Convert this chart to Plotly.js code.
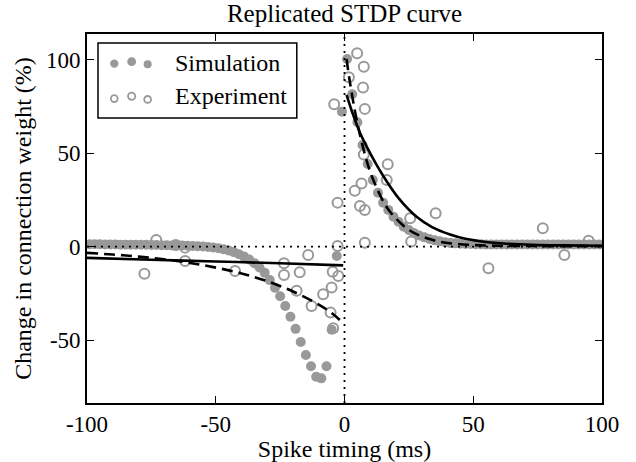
<!DOCTYPE html>
<html>
<head>
<meta charset="utf-8">
<script src="https://cdn.plot.ly/plotly-3.0.1.min.js"></script>
<style>html,body{margin:0;padding:0;background:#fff;}#chart{width:636px;height:462px;}</style>
</head>
<body>
<div id="chart"></div>
<script>
// ---- data ----
const simT = [-99,-97,-95,-93,-91,-89,-87,-85,-83,-81,-79,-77,-75,-73,-71,-69,-67,-65,-63,-61,
  -59,-57,-55,-53,-51,-49,-47,-45,-43,-41,-39,-37,-35,-33,-31,-29,-27,-25,-23,-21,
  -19,-17,-15,-13,-11,-9,-7,-5,-3,-1,
  1,3,5,7,9,11,13,15,17,19,21,23,25,27,29,31,33,35,37,39,
  41,43,45,47,49,51,53,55,57,59,61,63,65,67,69,71,73,75,77,79,
  81,83,85,87,89,91,93,95,97,99];
const simV = [1.3,1.3,1.3,1.2,1.2,1.2,1.1,1.1,1.1,1.0,1.0,1.0,0.9,0.9,0.8,0.8,0.7,0.7,0.6,0.5,
  0.4,0.3,0.1,-0.1,-0.4,-0.8,-1.3,-2.0,-2.9,-4.0,-5.3,-6.9,-8.8,-11.1,-14.0,-17.9,-22.0,-26.5,-31.8,-37.5,
  -44.0,-51.0,-58.0,-64.0,-69.6,-70.5,-64.0,-44.5,-5.0,72.3,
  100.5,81.6,66.6,54.5,44.3,35.7,28.9,23.6,19.7,16.1,13.4,10.7,8.9,7.3,6.0,5.0,4.1,3.4,2.9,2.4,
  2.0,1.8,1.6,1.5,1.4,1.3,1.3,1.2,1.2,1.2,1.2,1.2,1.2,1.2,1.2,1.2,1.2,1.2,1.2,1.2,
  1.2,1.2,1.2,1.2,1.2,1.2,1.2,1.2,1.2,1.2];

const expT = [-77.7,-73.1,-65.5,-61.9,-61.9,-42.5,-23.5,-23.5,-18.6,-17.4,-14.1,-12.8,-8.3,-5.4,-5.0,-4.6,-4.4,-4.0,-2.7,-2.7,-2.4,
  1.7,4.0,4.9,6.0,6.6,7.2,7.5,7.5,7.9,7.9,7.9,16.4,16.8,25.5,25.9,35.4,55.9,77.0,85.4,94.8];
const expV = [-14.5,3.6,0.9,-0.5,-7.7,-13.0,-8.9,-15.2,-23.6,-13.7,-4.4,-31.8,-25.5,-35.3,-21.9,-13.4,-43.7,76.3,0.4,23.6,-15.7,
  90.7,30.0,103.6,21.8,33.9,85.2,96.4,49.4,73.8,19.7,2.1,35.7,44.1,15.2,2.8,17.9,-11.6,9.9,-4.4,3.2];

// fit to experiment (solid) : negative and positive branches
const expFitNegT = [-100,-75,-50,-25,-0.5];
const expFitNegV = [-6.0,-7.0,-7.9,-8.9,-10.0];
const expFitPosT = [0.8,3,6,10,15,21,28,34,41,47,55,63,73,85,100];
const expFitPosV = [81.3,72,61,50,38,26,16,10.5,6.5,4.2,2.5,1.6,1.0,0.7,0.5];

// fit to simulation (dashed)
const simFitNegT = [-100,-90,-80,-70,-60,-50,-40,-30,-20,-10,-5,-0.8];
const simFitNegV = [-3.3,-4.2,-5.3,-6.8,-8.7,-11.2,-14.3,-18.5,-24.0,-31.0,-35.5,-40.5];
const simFitPosT = [0.8,2,4,6,8,10,13,16,20,25,30,35,40,50,60,70,80,90,100];
const simFitPosV = [100.5,89,73,60,49,40,30,22,15,9,5.5,3.3,2.0,0.9,0.5,0.4,0.3,0.3,0.3];

const legendLabels = ["Simulation", "Experiment"];
const xTicks = [-100,-50,0,50,100];
const yTicks = [-50,0,50,100];

const GRAY = "rgb(153,153,153)";
const FONT = "Liberation Serif, Times New Roman, serif";

const traces = [
  {x: simT, y: simV, type: "scatter", mode: "markers", name: legendLabels[0],
   marker: {color: GRAY, size: 10, line: {width: 0}}},
  {x: expT, y: expV, type: "scatter", mode: "markers", name: legendLabels[1],
   marker: {symbol: "circle-open", color: GRAY, size: 10, line: {width: 2, color: GRAY}}},
  {x: expFitNegT, y: expFitNegV, type: "scatter", mode: "lines", line: {color: "black", width: 2.6, shape: "spline"}},
  {x: expFitPosT, y: expFitPosV, type: "scatter", mode: "lines", line: {color: "black", width: 2.6, shape: "spline"}},
  {x: simFitNegT, y: simFitNegV, type: "scatter", mode: "lines", line: {color: "black", width: 2.6, dash: "11px,6px", shape: "spline"}},
  {x: simFitPosT, y: simFitPosV, type: "scatter", mode: "lines", line: {color: "black", width: 2.6, dash: "11px,6px", shape: "spline"}}
];

// custom legend (matplotlib style, three markers per entry)
const plotL = 87, plotR = 602.5, plotT = 34, plotB = 403;
const pw = plotR - plotL, ph = plotB - plotT;
const px = X => (X - plotL) / pw;
const py = Y => (plotB - Y) / ph;

const shapes = [
  {type: "line", xref: "x", yref: "paper", x0: 0, x1: 0, y0: 0, y1: 1, layer: "above",
   line: {color: "black", width: 1.8, dash: "2px,5px"}},
  {type: "line", xref: "paper", yref: "y", x0: 0, x1: 1, y0: 0, y1: 0, layer: "above",
   line: {color: "black", width: 1.8, dash: "2px,5px"}},
  {type: "rect", xref: "paper", yref: "paper", x0: px(98), x1: px(297), y0: py(118), y1: py(43), layer: "above",
   fillcolor: "white", line: {color: "black", width: 1.5}}
];
const legMarks = [[114.3,63.6,4.2],[131.7,61.7,4.4],[147.7,64.3,4.0]];
legMarks.forEach(m => {
  shapes.push({type: "circle", xref: "paper", yref: "paper", xsizemode: "pixel", ysizemode: "pixel",
    xanchor: px(m[0]), yanchor: py(m[1]), x0: -m[2], x1: m[2], y0: -m[2], y1: m[2], layer: "above",
    fillcolor: GRAY, line: {width: 0}});
});
const legOpen = [[114.3,98.6,3.4],[131.7,96.2,3.6],[147.7,99.4,3.4]];
legOpen.forEach(m => {
  shapes.push({type: "circle", xref: "paper", yref: "paper", xsizemode: "pixel", ysizemode: "pixel",
    xanchor: px(m[0]), yanchor: py(m[1]), x0: -m[2], x1: m[2], y0: -m[2], y1: m[2], layer: "above",
    fillcolor: "white", line: {width: 1.8, color: GRAY}});
});

const annotations = [
  {xref: "paper", yref: "paper", x: px(173), y: py(63), xanchor: "left", yanchor: "middle", showarrow: false,
   text: legendLabels[0], font: {family: FONT, size: 24, color: "black"}},
  {xref: "paper", yref: "paper", x: px(173), y: py(96), xanchor: "left", yanchor: "middle", showarrow: false,
   text: legendLabels[1], font: {family: FONT, size: 24, color: "black"}}
];

const axisCommon = {
  showline: true, linecolor: "black", linewidth: 1.8, mirror: "ticks",
  ticks: "inside", ticklen: 7, tickwidth: 1, tickcolor: "black",
  showgrid: false, zeroline: false,
  tickfont: {family: FONT, size: 23, color: "black"}
};

const layout = {
  width: 636, height: 462,
  margin: {l: plotL, r: 636 - plotR, t: plotT, b: 462 - plotB},
  paper_bgcolor: "white", plot_bgcolor: "white",
  showlegend: false,
  font: {family: FONT, color: "black"},
  title: {text: "Replicated STDP curve", font: {family: FONT, size: 25, color: "black"},
          x: 0.5, xref: "paper", y: 1 - 13.5/462, yref: "container", yanchor: "middle"},
  xaxis: Object.assign({}, axisCommon, {
    range: [-100, 100], tickvals: xTicks, ticktext: xTicks.map(String),
    title: {text: "Spike timing (ms)", font: {family: FONT, size: 24, color: "black"}, standoff: 6}
  }),
  yaxis: Object.assign({}, axisCommon, {
    range: [-83.7, 113.9], tickvals: yTicks, ticktext: yTicks.map(String),
    title: {text: "Change in connection weight (%)", font: {family: FONT, size: 24, color: "black"}, standoff: 8}
  }),
  shapes: shapes,
  annotations: annotations
};

Plotly.newPlot("chart", traces, layout, {displayModeBar: false, staticPlot: true});
</script>
</body>
</html>
